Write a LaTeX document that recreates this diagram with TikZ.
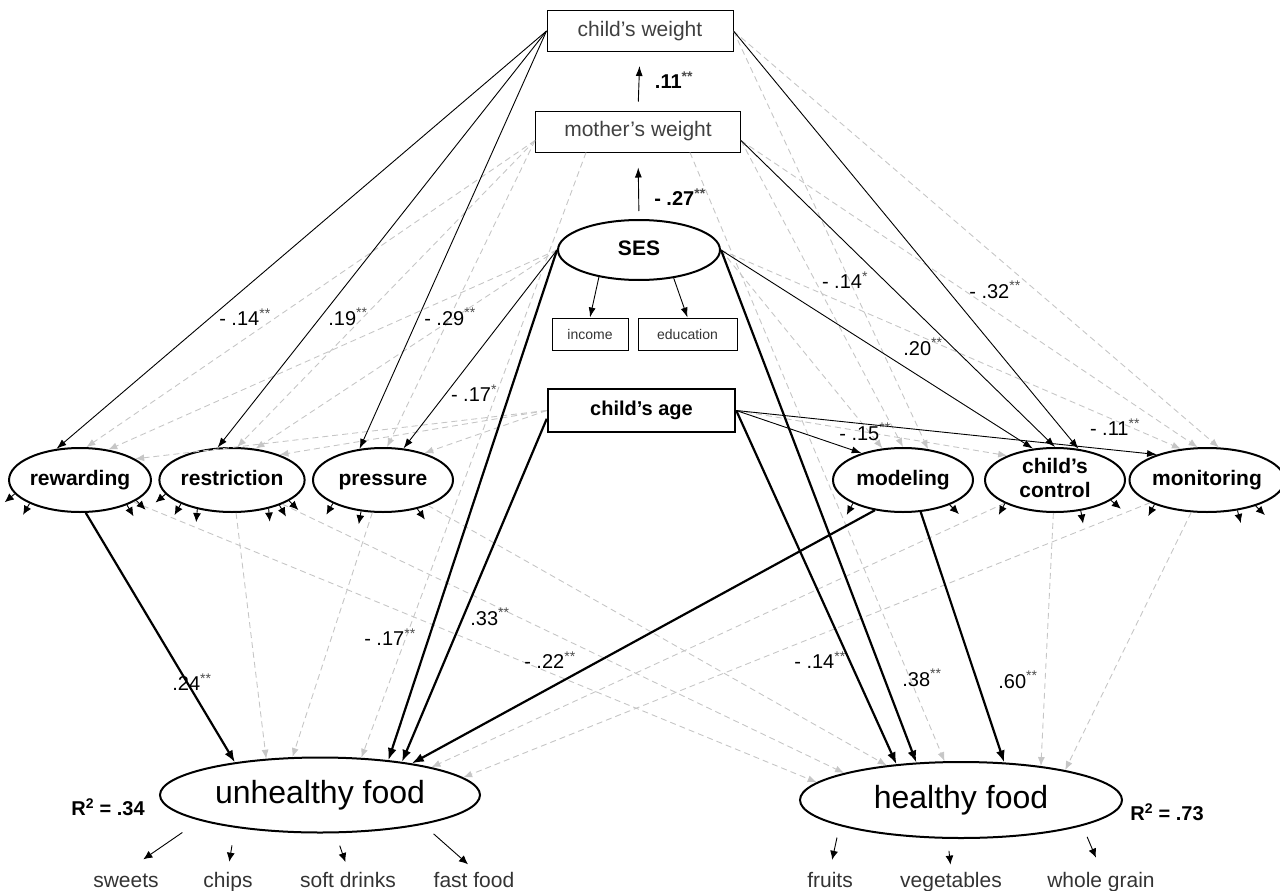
\documentclass[tikz,border=0pt]{standalone}
\usepackage{fontspec}
\setmainfont{Liberation Sans}
\usetikzlibrary{shapes.geometric,arrows.meta,calc}

\newcommand{\sig}[1]{\textsuperscript{\color{black!70}#1}}

\tikzset{
  obs/.style={draw, line width=1pt, inner sep=0pt, text=black!75, font=\fontsize{21}{25}\selectfont},
  indbox/.style={draw, line width=1pt, inner sep=0pt, minimum height=32pt, text=black!80, font=\fontsize{14}{16}\selectfont},
  lat/.style={ellipse, draw, line width=2pt, inner sep=0pt, minimum width=140pt, minimum height=64pt, align=center, text height=15pt, text depth=4.5pt, font=\bfseries\fontsize{21}{24}\selectfont},
  food/.style={ellipse, draw, line width=2pt, inner sep=0pt, minimum width=320pt, minimum height=75pt, text height=23pt, text depth=7pt, font=\fontsize{32}{38}\selectfont},
  item/.style={anchor=base, inner sep=2pt, text=black!80, font=\fontsize{21}{25}\selectfont},
  coef/.style={font=\fontsize{20}{24}\selectfont},
  eff/.style={line width=0.9pt, -{Latex[length=10pt,width=7pt]}},
  strong/.style={line width=2.2pt, -{Latex[length=12pt,width=9pt]}},
  ns/.style={gray!45, line width=0.9pt, dash pattern=on 6pt off 4pt, -{Latex[length=9pt,width=7pt]}},
  stub/.style={line width=0.9pt, -{Latex[length=9pt,width=8pt]}},
}

\begin{document}
\begin{tikzpicture}[x=1pt, y=1pt]
    \useasboundingbox (0,0) rectangle (1280,-891);

    % weights, SES, age
    \node[obs, minimum width=186pt, minimum height=41pt] (cw) at (640,-31) {child's weight};
    \node[obs, minimum width=205pt, minimum height=41pt] (mw) at (638,-131.5) {mother's weight};
    \node[lat, minimum width=162pt, minimum height=60pt] (ses) at (639,-250) {SES};
    \node[indbox, minimum width=76pt] (inc) at (590,-334) {income};
    \node[indbox, minimum width=99pt] (edu) at (687.5,-334) {education};
    \node[draw, line width=2.5pt, minimum width=187pt, minimum height=43pt, inner sep=0pt, font=\bfseries\fontsize{20}{24}\selectfont] (age) at (641.5,-410.5) {child's age};

    % feeding practices
    \node[lat] (rew) at (80,-480) {rewarding};
    \node[lat] (res) at (232,-480) {restriction};
    \node[lat] (pres) at (383,-480) {pressure};
    \node[lat] (mod) at (903,-480) {modeling};
    \node[lat, text height=39pt] (ctrl) at (1055,-480) {child's\\control};
    \node[lat] (mon) at (1207,-480) {monitoring};

    % outcomes
    \node[food] (unh) at (320,-795) {unhealthy food};
    \node[food, minimum width=322pt, minimum height=76pt] (hea) at (961,-800) {healthy food};
    \node[font=\bfseries\fontsize{20}{24}\selectfont] (r2u) at (108,-807) {R\textsuperscript{2} = .34};
    \node[font=\bfseries\fontsize{20}{24}\selectfont] (r2h) at (1167,-812) {R\textsuperscript{2} = .73};

    \node[item] (i1) at (126,-887) {sweets};
    \node[item] (i2) at (228,-887) {chips};
    \node[item] (i3) at (348,-887) {soft drinks};
    \node[item] (i4) at (474,-887) {fast food};
    \node[item] (i5) at (830,-887) {fruits};
    \node[item] (i6) at (951,-887) {vegetables};
    \node[item] (i7) at (1101,-887) {whole grain};

    % non significant paths
    \draw[ns] (mw.-175) -- (rew.79);
    \draw[ns] (ses.west) -- (rew.47);
    \draw[ns] (age.west) -- (rew.21);
    \draw[ns] (mw.-175) -- (res.81);
    \draw[ns] (ses.west) -- (res.53);
    \draw[ns] (age.west) -- (res.28);
    \draw[ns] (mw.-175) -- (pres.83);
    \draw[ns] (age.west) -- (pres.33);
    \draw[ns] (ses.east) -- (mod.123);
    \draw[ns] (mw.-5) -- (mod.90);
    \draw[ns] (cw.east) -- (mod.51);
    \draw[ns] (age.east) -- (ctrl.153);
    \draw[ns] (ses.east) -- (mon.130);
    \draw[ns] (mw.-5) -- (mon.106);
    \draw[ns] (cw.east) -- (mon.70);
    \draw[ns] (res) -- (unh.146);
    \draw[ns] (pres) -- (unh.126);
    \draw[ns] (mw.-158) -- (unh.42);
    \draw[ns] (ctrl) -- (unh.14);
    \draw[ns] (mon) -- (unh.7);
    \draw[ns] (rew) -- (hea.173);
    \draw[ns] (res) -- (hea.167);
    \draw[ns] (pres) -- (hea.155);
    \draw[ns] (mw.-22) -- (hea.113);
    \draw[ns] (ctrl) -- (hea.23);
    \draw[ns] (mon) -- (hea.16);

    % significant paths
    \draw[eff, shorten <=9pt, shorten >=14pt] (mw.north) -- (cw.south);
    \draw[eff, shorten <=8pt, shorten >=15pt] (ses.north) -- (mw.south);
    \draw[eff] (ses.-146) -- (inc.north);
    \draw[eff] (ses.-39) -- (edu.north);
    \draw[eff] (cw.west) -- (rew.127);
    \draw[eff] (cw.west) -- (res.114);
    \draw[eff] (cw.west) -- (pres.127);
    \draw[eff] (ses.west) -- (pres.57);
    \draw[eff] (ses.east) -- (ctrl.125);
    \draw[eff] (mw.-5) -- (ctrl.90);
    \draw[eff] (cw.east) -- (ctrl.53);
    \draw[eff] (age.east) -- (mod.147);
    \draw[eff] (age.east) -- (mon.153);

    \draw[strong] (rew.-80) -- (unh.159);
    \draw[strong] (ses.west) -- (unh.27);
    \draw[strong] (age.-175) -- (unh.22);
    \draw[strong] (mod.-133) -- (unh.19);
    \draw[strong] (ses.east) -- (hea.140);
    \draw[strong] (age.east) -- (hea.151);
    \draw[strong] (mod.-61) -- (hea.41);

    % item stubs
    \foreach \n/\a/\d in {rew/-168/-140, rew/-155/-120, rew/-28/-60, rew/-20/-45,
        res/-168/-140, res/-155/-120, res/-140/-95, res/-38/-85, res/-28/-60, res/-20/-45,
        pres/-155/-120, pres/-125/-100, pres/-40/-55,
        mod/-155/-118, mod/-28/-45,
        ctrl/-155/-118, ctrl/-50/-80, ctrl/-20/-40,
        mon/-155/-118, mon/-45/-75, mon/-28/-45} {
        \coordinate (tip) at ($(\n.\a)+(\d:13)$);
        \draw[stub] (\n.\a) -- (tip);
    }

    \draw[stub, shorten <=21pt, shorten >=21pt] (unh.-168) -- (i1.north);
    \draw[stub, shorten <=18pt, shorten >=8pt] (unh.-159) -- (i2.north);
    \draw[stub, shorten <=13pt, shorten >=8pt] (unh.-68) -- (i3.north);
    \draw[stub, shorten <=14pt, shorten >=8pt] (unh.-16) -- (i4.north);
    \draw[stub, shorten <=12pt, shorten >=10pt] (hea.-168) -- (i5.north);
    \draw[stub, shorten <=12pt, shorten >=5pt] (hea.-109) -- (i6.north);
    \draw[stub, shorten <=12pt, shorten >=13pt] (hea.-12) -- (i7.north);

    % coefficients
    \node[coef, font=\bfseries\fontsize{20}{24}\selectfont] (k1) at (674,-80) {.11\sig{**}};
    \node[coef, font=\bfseries\fontsize{20}{24}\selectfont] (k2) at (680,-197) {- .27\sig{**}};
    \node[coef] (k3) at (245,-317) {- .14\sig{**}};
    \node[coef] (k4) at (348,-317) {.19\sig{**}};
    \node[coef] (k5) at (450,-317) {- .29\sig{**}};
    \node[coef] (k6) at (474,-393) {- .17\sig{*}};
    \node[coef] (k7) at (845,-280) {- .14\sig{*}};
    \node[coef] (k8) at (995,-290) {- .32\sig{**}};
    \node[coef] (k9) at (923,-347) {.20\sig{**}};
    \node[coef] (k10) at (865,-432) {- .15\sig{**}};
    \node[coef] (k11) at (1115,-427) {- .11\sig{**}};
    \node[coef] (k12) at (192,-682) {.24\sig{**}};
    \node[coef] (k13) at (390,-637) {- .17\sig{**}};
    \node[coef] (k14) at (490,-617) {.33\sig{**}};
    \node[coef] (k15) at (550,-660) {- .22\sig{**}};
    \node[coef] (k16) at (820,-660) {- .14\sig{**}};
    \node[coef] (k17) at (922,-678) {.38\sig{**}};
    \node[coef] (k18) at (1018,-680) {.60\sig{**}};
\end{tikzpicture}
\end{document}
